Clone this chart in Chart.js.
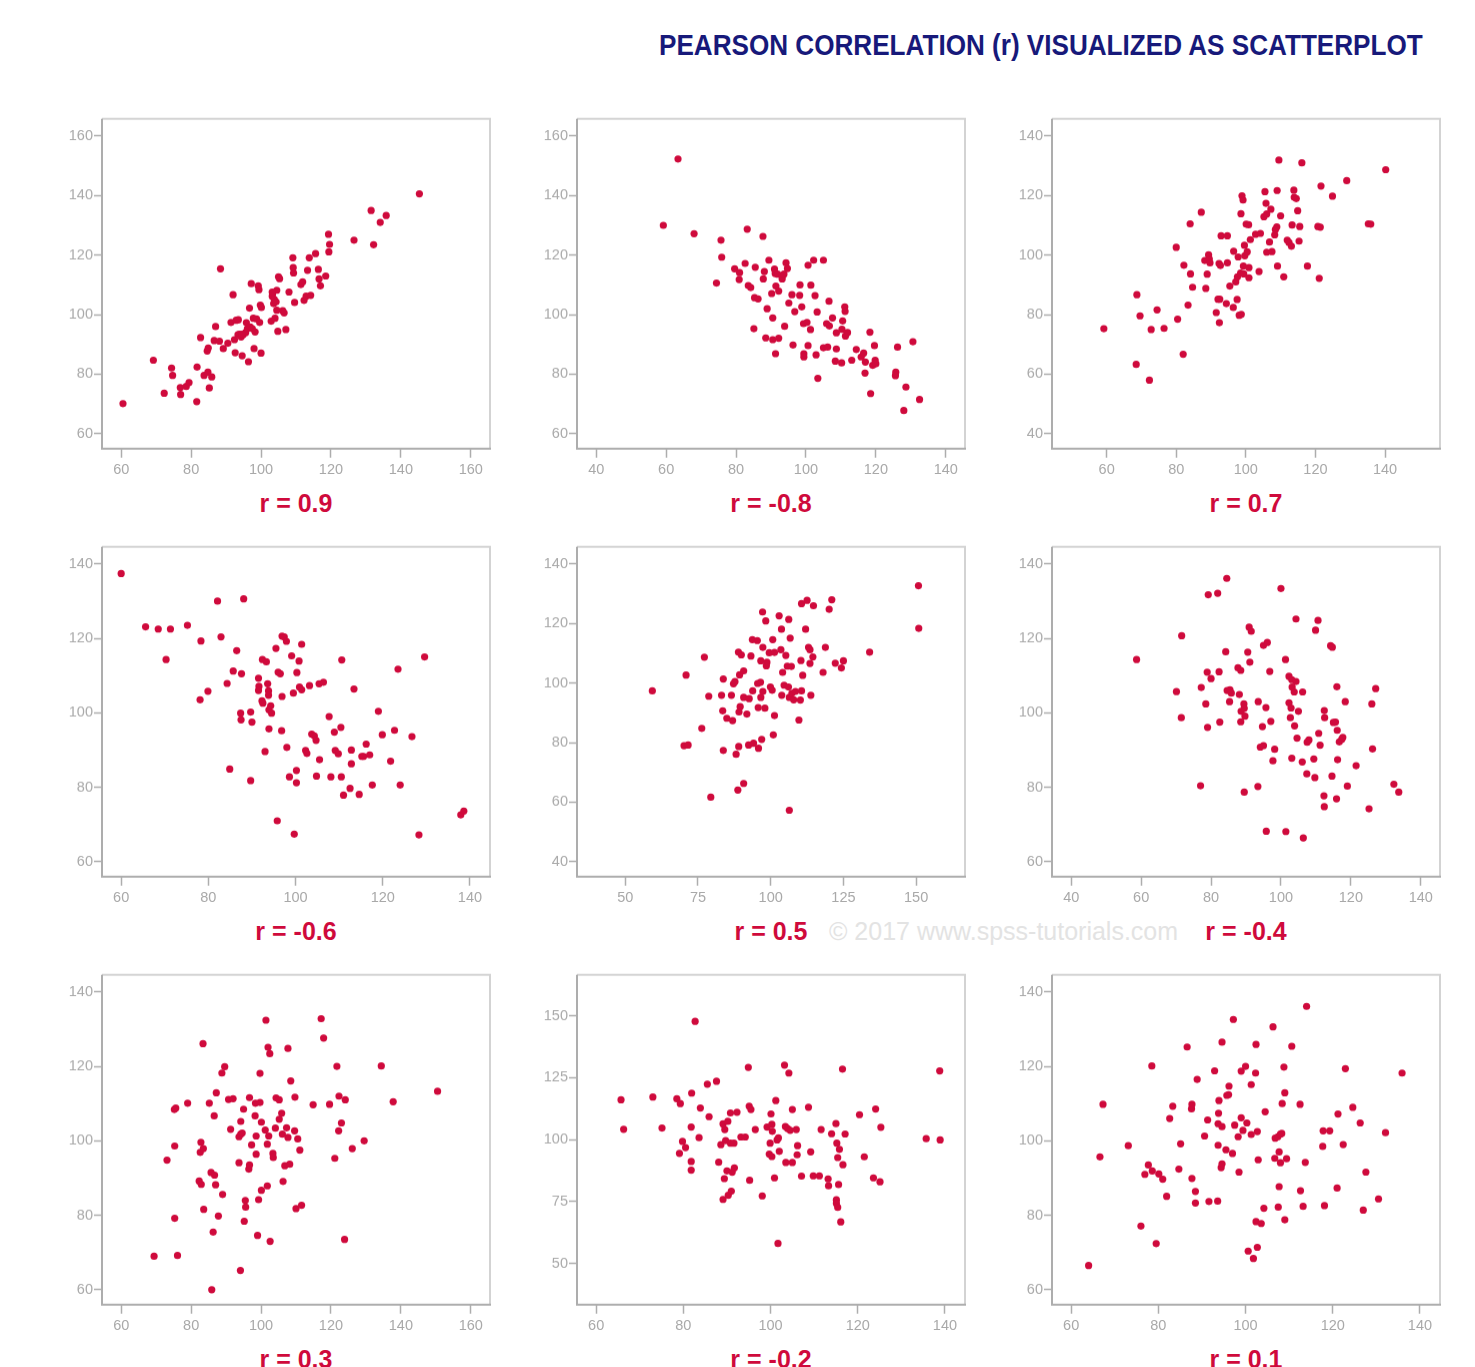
<!DOCTYPE html>
<html>
<head>
<meta charset="utf-8">
<title>Pearson correlation visualized as scatterplot</title>
<script src="https://cdn.jsdelivr.net/npm/chart.js@4.4.0/dist/chart.umd.min.js"></script>
<style>
    body { margin: 0; background: #fff; width: 1475px; height: 1367px; overflow: hidden; position: relative; }
    #title {
        position: absolute; left: 659px; top: 28px;
        font-family: "Liberation Sans", Arial, sans-serif;
        font-weight: bold; font-size: 29px; color: #17197a; white-space: nowrap; line-height: 34px;
        transform: scaleX(0.9); transform-origin: left top;
    }
    #watermark {
        position: absolute; left: 829px; top: 916px;
        font-family: "Liberation Sans", Arial, sans-serif;
        font-size: 25px; color: #e3e3e3; white-space: nowrap; line-height: 30px;
    }
    .panel { position: absolute; }
    .rlabel {
        position: absolute; width: 388px; text-align: center;
        font-family: "Liberation Sans", Arial, sans-serif;
        font-weight: bold; font-size: 25px; color: #cf0a3c; line-height: 30px; white-space: nowrap;
    }
</style>
</head>
<body>
<div id="title">PEARSON CORRELATION (r) VISUALIZED AS SCATTERPLOT</div>
<div id="watermark">© 2017 www.spss-tutorials.com</div>
<div id="panels"></div>
<script>
// Values (x = first variable, y = second)
const r09X = [60.5, 69.2, 72.3, 74.4, 74.7, 76.9, 77.0, 78.6, 79.4, 81.6, 81.7, 82.7, 83.7, 84.8, 84.6, 84.9,
    85.2, 85.9, 87.0, 86.6, 88.1, 88.4, 89.2, 90.5, 91.4, 92.0, 92.4, 92.6, 92.9, 93.4, 93.8, 94.3, 94.6, 94.9,
    95.6, 95.8, 96.1, 96.4, 96.7, 96.9, 97.2, 97.5, 97.8, 98.0, 98.3, 98.7, 99.2, 99.4, 99.6, 99.8, 100.1, 100.0,
    102.9, 103.2, 103.3, 103.6, 103.8, 104.0, 104.3, 104.5, 104.5, 104.8, 105.0, 105.3, 106.2, 106.6, 107.1,
    108.0, 109.1, 109.2, 109.3, 109.6, 111.4, 111.9, 112.3, 112.9, 113.3, 113.8, 114.2, 115.6, 116.4, 116.6,
    117.0, 118.5, 119.3, 119.6, 119.4, 126.6, 131.5, 132.2, 134.1, 135.8, 145.3, 93.5, 94.5, 103.2];
const r09Y = [70.1, 84.7, 73.6, 82.1, 79.6, 75.5, 73.2, 75.9, 77.2, 70.8, 82.4, 92.3, 79.6, 80.7, 87.8, 88.8,
    75.4, 79.1, 96.0, 91.3, 91.1, 115.4, 88.6, 90.4, 97.4, 106.7, 91.6, 87.2, 98.1, 93.3, 93.4, 92.5, 86.2, 93.3,
    94.0, 97.3, 95.3, 84.2, 102.2, 95.9, 110.4, 95.3, 98.8, 88.6, 94.2, 98.6, 109.7, 108.4, 97.4, 103.2, 102.4, 87.1,
    97.8, 106.2, 107.1, 103.7, 105.1, 98.8, 104.3, 101.5, 108.2, 94.4, 112.7, 112.1, 101.3, 100.6, 95.0,
    107.6, 119.1, 115.8, 114.0, 104.1, 110.1, 111.0, 104.8, 106.2, 114.9, 119.1, 106.5, 120.5, 115.2, 112.0,
    109.7, 113.0, 127.0, 123.6, 121.1, 125.0, 135.0, 123.5, 131.0, 133.3, 140.6, 98.3, 93.4, 107.6];

const rm08X = [63.4, 59.2, 68.0, 75.7, 75.9, 74.4, 83.2, 87.7, 79.6, 81.0, 80.9, 82.6, 83.5, 84.2, 85.5, 85.3,
    86.3, 85.1, 88.1, 87.8, 88.9, 88.5, 89.4, 90.2, 90.5, 90.5, 91.0, 91.2, 91.4, 91.9, 92.2, 91.3, 92.2, 93.2,
    93.2, 93.7, 94.3, 94.7, 93.9, 95.1, 96.0, 96.8, 96.3, 98.2, 98.3, 98.8, 99.3, 100.3, 99.4, 99.4, 100.6, 101.3,
    100.6, 101.4, 102.2, 102.6, 103.2, 102.9, 103.4, 105.0, 105.0, 105.9, 106.2, 106.6, 106.7, 107.6, 108.4,
    108.7, 108.7, 110.2, 110.5, 110.3, 111.1, 111.2, 111.3, 111.9, 113.1, 114.4, 115.8, 116.5, 117.0, 116.9,
    118.3, 118.5, 119.1, 119.6, 119.8, 120.0, 126.2, 125.7, 125.6, 128.6, 128.0, 130.6, 132.5];
const rm08Y = [152.3, 130.0, 127.2, 125.0, 119.3, 110.6, 128.7, 126.3, 115.4, 114.1, 111.8, 117.2, 109.8, 109.1,
    115.9, 105.7, 105.3, 95.3, 114.5, 112.0, 102.0, 92.2, 118.3, 107.1, 98.9, 91.6, 115.3, 113.8, 109.6, 113.6,
    107.9, 86.9, 92.1, 113.0, 112.0, 113.6, 117.4, 115.5, 96.1, 103.9, 106.7, 101.0, 89.8, 106.5, 110.0, 102.6,
    97.0, 97.4, 86.9, 85.8, 89.6, 95.0, 116.6, 109.9, 118.3, 106.4, 100.9, 86.5, 78.6, 118.3, 88.9, 97.0, 89.1,
    104.5, 96.2, 98.9, 84.4, 93.9, 88.5, 83.8, 97.9, 95.1, 102.6, 101.1, 92.8, 94.0, 84.7, 88.3, 85.8, 87.1, 84.1,
    80.4, 94.1, 73.5, 83.0, 89.6, 84.7, 83.5, 89.1, 80.7, 79.5, 75.7, 67.8, 90.9, 71.5];

const r07X = [59.2, 68.7, 69.6, 68.5, 72.3, 72.8, 74.5, 76.5, 80.0, 80.4, 82.0, 82.2, 83.4, 84.0, 84.1, 84.7,
    87.2, 88.2, 88.5, 88.9, 89.3, 89.5, 89.7, 91.5, 92.0, 92.4, 92.5, 92.3, 92.7, 92.9, 94.7, 94.4, 94.7, 95.4,
    96.5, 96.4, 97.1, 97.5, 97.6, 97.8, 98.1, 98.6, 98.7, 98.5, 98.9, 99.2, 99.3, 99.4, 99.6, 99.7, 100.1, 100.4,
    100.8, 100.9, 100.9, 101.3, 102.8, 103.8, 104.2, 105.2, 105.5, 105.8, 106.0, 106.0, 106.8, 107.2, 107.5,
    108.3, 108.5, 108.9, 109.0, 109.1, 109.5, 110.0, 110.9, 111.9, 112.4, 113.1, 113.3, 113.8, 113.9, 114.5,
    114.9, 115.3, 115.5, 116.1, 117.7, 120.7, 121.4, 121.1, 121.6, 124.9, 129.0, 135.2, 135.9, 140.2];
const r07Y = [75.3, 86.7, 79.6, 63.3, 58.0, 75.0, 81.6, 75.4, 102.6, 78.5, 66.7, 96.6, 83.2, 110.5, 93.7, 89.2,
    114.4, 98.2, 88.8, 93.6, 100.1, 98.7, 97.4, 80.7, 85.2, 77.3, 85.2, 97.2, 96.5, 106.5, 106.5, 83.7, 97.4, 89.6,
    101.3, 82.4, 91.0, 85.1, 92.7, 99.4, 79.8, 113.9, 80.1, 94.0, 119.9, 118.5, 96.3, 93.7, 103.3, 99.8, 110.4, 101.1,
    110.2, 95.8, 92.4, 105.2, 107.0, 94.5, 107.3, 112.9, 121.3, 117.4, 113.8, 101.0, 104.4, 115.4, 101.2,
    106.8, 108.6, 109.5, 121.7, 96.3, 131.9, 113.2, 92.7, 105.0, 104.2, 103.0, 110.1, 121.8, 119.4, 119.0,
    114.9, 104.7, 109.6, 131.0, 96.3, 109.6, 109.4, 92.2, 123.2, 119.8, 125.0, 110.5, 110.4, 128.7];

const rm06X = [60.0, 65.6, 68.5, 71.3, 70.3, 75.2, 78.3, 78.1, 79.9, 82.1, 82.9, 84.3, 84.9, 85.7, 86.5, 87.4,
    87.5, 87.6, 88.1, 89.7, 89.7, 90.0, 91.5, 91.6, 91.5, 92.3, 92.4, 92.5, 93.0, 93.3, 93.6, 93.8, 93.8, 93.9,
    93.9, 94.3, 94.5, 95.5, 95.8, 96.0, 96.5, 96.8, 96.9, 96.9, 97.4, 97.9, 98.0, 98.6, 99.1, 99.5, 99.7, 100.2,
    100.2, 100.3, 100.8, 100.9, 101.4, 101.4, 102.3, 102.6, 103.2, 103.7, 104.3, 104.7, 104.8, 105.4, 105.5,
    106.4, 107.7, 108.1, 108.9, 109.1, 109.8, 110.4, 110.5, 110.6, 111.0, 112.5, 112.8, 112.8, 113.4, 114.6,
    115.2, 115.6, 116.2, 117.0, 117.6, 119.0, 119.9, 121.8, 122.7, 123.5, 124.0, 126.7, 128.3, 129.6, 137.9, 138.6];
const rm06Y = [137.4, 123.1, 122.5, 122.5, 114.3, 123.5, 119.3, 103.5, 105.8, 130.0, 120.4, 107.9, 84.9, 111.2,
    116.7, 99.9, 98.1, 110.5, 130.6, 100.2, 81.8, 97.5, 109.3, 107.1, 106.0, 103.2, 114.3, 102.6, 89.6, 113.7,
    107.8, 105.9, 104.7, 100.8, 95.7, 101.9, 99.9, 117.3, 71.0, 110.9, 110.5, 95.2, 104.4, 120.6, 120.4, 119.2,
    90.7, 82.8, 115.3, 105.3, 67.4, 84.5, 81.2, 110.8, 113.9, 106.9, 106.2, 118.4, 89.9, 89.1, 107.3, 94.3, 93.8,
    92.6, 83.0, 107.8, 87.4, 108.2, 99.0, 82.8, 94.8, 89.9, 89.0, 96.1, 82.8, 114.2, 77.9, 79.7, 90.0, 86.3, 106.4,
    78.1, 88.3, 88.3, 91.6, 88.7, 80.6, 100.4, 94.1, 87.0, 95.3, 111.7, 80.6, 93.6, 67.2, 115.0, 72.6, 73.6];

const r05X = [59.3, 70.2, 71.6, 70.9, 76.3, 77.2, 78.7, 79.4, 83.1, 83.5, 83.7, 83.7, 84.9, 86.5, 86.9, 87.2,
    87.7, 88.1, 88.7, 88.9, 89.0, 89.1, 89.3, 89.5, 89.9, 90.7, 90.7, 90.7, 91.8, 92.4, 92.6, 93.2, 93.7, 93.8,
    94.1, 95.4, 95.5, 95.7, 95.8, 96.5, 96.6, 96.6, 96.9, 97.2, 97.3, 97.3, 98.0, 98.3, 98.5, 98.7, 99.5, 99.9,
    100.5, 100.7, 100.9, 101.3, 101.3, 102.9, 103.5, 103.7, 103.8, 104.1, 104.6, 105.2, 105.7, 106.1, 106.2,
    106.4, 106.4, 106.7, 107.1, 107.3, 107.9, 108.5, 109.7, 110.2, 110.4, 110.6, 110.6, 111.0, 112.0, 112.5,
    113.0, 113.5, 113.5, 113.8, 114.7, 114.5, 118.0, 118.8, 120.1, 121.0, 122.2, 124.3, 125.0, 134.0, 150.8, 150.9];
const r05Y = [97.4, 79.0, 79.2, 102.7, 84.8, 108.7, 95.6, 61.7, 95.9, 90.7, 101.4, 77.4, 88.2, 95.9, 87.4, 99.8,
    100.5, 76.1, 64.1, 110.4, 78.7, 90.3, 102.8, 92.1, 109.5, 104.1, 95.2, 66.3, 89.6, 79.2, 94.8, 109.1, 114.6,
    97.4, 79.8, 114.3, 99.9, 91.8, 78.1, 100.3, 107.5, 95.2, 81.1, 123.9, 112.0, 97.2, 91.6, 120.9, 105.8, 107.0,
    110.2, 98.7, 97.6, 114.6, 82.6, 110.3, 89.1, 122.6, 111.2, 118.1, 95.9, 103.6, 99.3, 109.3, 105.7, 98.7, 121.4,
    95.2, 57.3, 115.1, 105.6, 96.6, 94.4, 97.2, 87.6, 94.3, 107.6, 126.7, 97.4, 102.6, 118.1, 127.8, 112.0, 111.2,
    106.6, 95.9, 126.0, 108.8, 103.6, 112.0, 124.8, 128.0, 106.7, 105.1, 107.5, 110.4, 132.7, 118.4];

const rm04X = [58.7, 70.1, 71.5, 71.6, 77.0, 77.2, 78.5, 78.9, 79.0, 79.2, 80.0, 81.9, 82.3, 82.5, 84.2, 84.5,
    84.6, 85.3, 85.4, 85.8, 87.7, 88.1, 88.5, 88.5, 88.6, 89.4, 89.5, 89.7, 89.5, 90.5, 90.9, 91.1, 91.5, 93.4,
    93.5, 94.1, 94.7, 95.0, 95.0, 95.7, 95.8, 96.1, 96.8, 97.1, 97.7, 98.2, 100.0, 101.3, 101.4, 102.3, 102.3,
    102.7, 102.9, 103.1, 103.2, 103.1, 103.8, 103.9, 104.3, 104.3, 104.6, 105.0, 106.1, 106.2, 106.4, 107.4,
    107.5, 108.0, 109.4, 109.7, 109.9, 110.6, 110.8, 111.2, 112.3, 112.4, 112.4, 112.5, 114.2, 114.6, 114.7,
    115.0, 115.6, 115.9, 116.0, 116.1, 116.2, 116.7, 117.4, 117.7, 118.4, 119.0, 121.5, 125.2, 126.0, 126.2,
    127.1, 132.3, 133.7];
const rm04Y = [114.3, 105.7, 98.7, 120.7, 80.4, 106.8, 102.4, 110.9, 96.1, 131.7, 109.2, 132.1, 111.0, 97.5, 116.4,
    136.1, 106.0, 103.0, 106.2, 105.3, 112.1, 104.9, 111.4, 97.6, 100.4, 102.4, 101.2, 99.1, 78.7, 116.3, 123.0,
    113.6, 121.9, 80.2, 103.0, 90.8, 96.3, 91.2, 118.1, 101.4, 68.2, 118.9, 111.1, 97.7, 87.1, 90.2, 133.4, 114.3,
    68.1, 109.8, 102.7, 98.7, 101.3, 108.9, 106.9, 87.8, 105.6, 96.5, 108.4, 125.2, 93.2, 100.4, 86.8, 105.6, 66.4,
    83.6, 92.1, 92.7, 87.6, 82.6, 122.2, 124.8, 94.5, 91.3, 77.7, 74.8, 100.6, 98.7, 118.0, 83.0, 117.6, 97.4, 97.5,
    76.9, 107.0, 95.3, 87.4, 92.2, 92.9, 93.4, 103.0, 80.3, 85.8, 74.2, 102.4, 90.3, 106.5, 80.8, 78.7];

const r03X = [69.4, 73.1, 75.3, 75.3, 75.2, 75.6, 76.1, 79.0, 82.3, 82.6, 82.8, 82.9, 83.5, 83.4, 83.6, 85.2,
    85.7, 85.9, 86.3, 86.6, 86.7, 87.0, 87.2, 87.8, 88.8, 89.0, 89.6, 90.7, 91.3, 92.0, 93.7, 93.7, 94.2, 94.2,
    94.1, 94.6, 95.0, 95.2, 95.5, 95.6, 96.5, 96.7, 96.7, 97.3, 98.3, 98.4, 98.6, 98.6, 99.0, 99.3, 99.7, 99.7,
    100.1, 100.1, 101.2, 101.4, 101.8, 101.8, 102.0, 102.2, 102.5, 102.6, 103.4, 103.5, 104.1, 104.3, 105.2,
    105.2, 105.9, 106.1, 106.3, 106.8, 107.3, 107.7, 107.7, 108.2, 108.5, 109.6, 109.7, 110.0, 110.5, 111.1,
    111.6, 114.9, 117.2, 117.9, 119.6, 121.1, 121.7, 122.2, 122.3, 123.0, 123.9, 124.1, 126.1, 129.5, 134.4,
    137.8, 150.5];
const r03Y = [69.0, 94.8, 79.2, 98.6, 108.4, 108.8, 69.2, 110.1, 89.2, 96.9, 99.6, 88.3, 97.9, 126.1, 81.6, 110.1,
    91.5, 60.0, 75.5, 106.7, 90.8, 88.2, 112.9, 79.8, 118.2, 85.6, 119.9, 111.1, 103.1, 111.3, 94.1, 101.1, 105.2,
    101.8, 65.2, 102.1, 108.5, 78.4, 84.0, 82.2, 92.4, 93.5, 111.6, 98.9, 106.7, 110.1, 101.3, 96.4, 74.6, 84.2,
    118.1, 110.3, 105.0, 86.7, 102.9, 132.4, 99.1, 87.9, 125.1, 101.3, 123.4, 73.0, 96.6, 95.5, 103.4, 111.5,
    111.0, 105.8, 107.4, 101.8, 89.1, 93.3, 103.5, 124.8, 100.9, 93.7, 116.1, 102.7, 111.7, 81.8, 100.5, 97.5,
    82.7, 109.7, 132.8, 127.6, 109.8, 95.3, 120.0, 102.7, 112.0, 104.8, 73.5, 111.0, 97.9, 100.0, 120.1, 110.5,
    113.3];

const rm02X = [65.7, 66.3, 73.0, 75.1, 78.5, 79.3, 79.1, 79.8, 80.5, 81.9, 81.8, 81.8, 81.8, 82.7, 83.6, 83.9,
    85.5, 85.9, 87.6, 88.1, 88.6, 89.1, 89.5, 89.1, 89.4, 89.7, 90.0, 90.2, 90.3, 90.8, 90.8, 91.0, 91.2, 91.6,
    91.7, 92.3, 93.2, 94.2, 94.9, 95.1, 95.5, 95.2, 96.5, 98.1, 99.2, 99.7, 99.9, 100.1, 100.3, 100.4, 100.3,
    100.9, 101.2, 101.5, 101.8, 102.0, 101.7, 103.2, 103.4, 103.5, 103.9, 104.2, 104.5, 105.0, 105.0, 105.9,
    106.1, 106.2, 107.1, 108.7, 109.2, 109.8, 111.2, 111.6, 113.2, 113.3, 114.0, 115.0, 115.2, 115.4, 115.8,
    115.6, 115.1, 115.1, 115.4, 116.1, 116.5, 116.6, 117.1, 120.4, 121.5, 123.6, 124.1, 125.1, 125.3, 135.7,
    138.8, 138.9];
const rm02Y = [116.1, 104.2, 117.2, 104.7, 116.5, 114.6, 94.5, 99.3, 96.8, 118.8, 105.1, 91.2, 87.7, 147.8, 100.8,
    112.8, 122.4, 109.3, 123.6, 90.9, 98.0, 106.4, 104.1, 75.9, 84.3, 99.6, 87.4, 107.4, 77.6, 110.8, 98.6, 79.2,
    86.9, 98.6, 88.6, 111.1, 101.1, 101.1, 129.2, 113.5, 112.2, 83.6, 104.1, 77.3, 105.1, 94.2, 98.6, 110.4, 106.2,
    103.4, 93.2, 84.6, 115.8, 99.9, 100.7, 95.3, 58.1, 130.1, 105.3, 90.8, 104.5, 126.9, 103.8, 90.8, 112.2, 104.1,
    93.9, 97.6, 85.3, 113.1, 95.1, 85.4, 85.4, 104.1, 84.2, 81.4, 102.4, 106.5, 98.6, 92.8, 96.1, 81.9, 75.7, 74.3,
    72.7, 66.8, 128.5, 89.9, 102.3, 110.1, 93.1, 84.6, 112.4, 83.0, 105.0, 100.4, 127.8, 99.9];

const r01X = [64.0, 66.6, 67.3, 73.1, 76.0, 76.9, 77.7, 78.5, 78.6, 79.5, 80.1, 81.0, 81.9, 82.6, 83.3, 84.7,
    85.1, 86.6, 87.6, 87.7, 87.7, 88.5, 88.5, 88.9, 90.6, 91.3, 91.6, 92.9, 93.6, 93.7, 93.8, 93.7, 93.9, 94.4,
    94.6, 94.6, 94.6, 95.5, 95.7, 96.1, 96.2, 97.0, 97.2, 97.5, 98.3, 98.5, 99.0, 99.0, 99.4, 100.0, 100.3, 100.6,
    101.3, 101.3, 101.8, 102.3, 102.4, 102.4, 102.7, 102.7, 102.9, 103.6, 104.2, 104.5, 106.3, 106.7, 106.8,
    107.4, 107.5, 107.7, 107.7, 108.0, 108.0, 108.3, 108.4, 108.8, 109.0, 109.0, 109.4, 110.6, 112.5, 112.6,
    113.2, 113.7, 114.0, 117.7, 117.8, 118.1, 119.3, 121.0, 121.2, 122.4, 122.9, 124.6, 126.3, 127.0, 127.6,
    130.5, 132.1, 135.9];
const r01Y = [66.5, 95.7, 109.8, 98.7, 77.1, 91.0, 93.5, 120.1, 91.9, 72.4, 91.1, 89.7, 85.1, 106.0, 109.3, 92.4,
    99.2, 125.2, 108.6, 109.8, 89.9, 86.4, 83.3, 116.5, 101.3, 105.6, 83.7, 118.8, 83.8, 98.8, 107.4, 104.6, 110.8,
    92.8, 126.5, 103.8, 93.8, 97.6, 112.2, 112.4, 114.7, 96.6, 132.6, 104.2, 101.1, 91.6, 106.2, 118.7, 102.8,
    120.0, 104.8, 70.4, 115.1, 101.7, 68.4, 118.2, 125.9, 78.3, 102.5, 71.4, 94.9, 77.8, 81.9, 107.8, 130.6, 95.3,
    100.7, 101.1, 82.2, 97.0, 87.7, 101.8, 94.1, 102.0, 110.0, 119.8, 112.9, 78.8, 95.2, 125.4, 109.8, 86.6, 82.4,
    94.2, 136.1, 98.5, 102.7, 82.6, 102.7, 87.3, 107.2, 99.0, 119.4, 109.0, 104.8, 81.4, 91.6, 84.4, 102.2, 118.2];

// Tick labels used on the axes
const ticks40to140 = [40, 60, 80, 100, 120, 140];
const ticks60to140 = [60, 80, 100, 120, 140];
const ticks60to160 = [60, 80, 100, 120, 140, 160];
const ticks50to150by25 = [50, 75, 100, 125, 150];

const RED = '#cf0a3c';
const AXIS_LINE = '#adadad';
const FRAME_LIGHT = '#d3d3d3';
const TICK_TEXT = '#a9a9a9';

const panels = [
    { label: 'r = 0.9', xs: r09X, ys: r09Y, xMin: 54.5, xMax: 165.5, yMin: 55, yMax: 165.8, xTicks: ticks60to160, yTicks: ticks60to160 },
    { label: 'r = -0.8', xs: rm08X, ys: rm08Y, xMin: 34.5, xMax: 145.5, yMin: 55, yMax: 165.8, xTicks: ticks40to140, yTicks: ticks60to160 },
    { label: 'r = 0.7', xs: r07X, ys: r07Y, xMin: 44.3, xMax: 155.8, yMin: 35, yMax: 145.8, xTicks: ticks60to140, yTicks: ticks40to140 },
    { label: 'r = -0.6', xs: rm06X, ys: rm06Y, xMin: 55.6, xMax: 144.6, yMin: 56, yMax: 144.6, xTicks: ticks60to140, yTicks: ticks60to140 },
    { label: 'r = 0.5', xs: r05X, ys: r05Y, xMin: 33.4, xMax: 166.8, yMin: 35, yMax: 145.8, xTicks: ticks50to150by25, yTicks: ticks40to140 },
    { label: 'r = -0.4', xs: rm04X, ys: rm04Y, xMin: 34.5, xMax: 145.5, yMin: 56, yMax: 144.6, xTicks: ticks40to140, yTicks: ticks60to140 },
    { label: 'r = 0.3', xs: r03X, ys: r03Y, xMin: 54.5, xMax: 165.5, yMin: 56, yMax: 144.6, xTicks: ticks60to160, yTicks: ticks60to140 },
    { label: 'r = -0.2', xs: rm02X, ys: rm02Y, xMin: 55.6, xMax: 144.6, yMin: 33.4, yMax: 166.6, xTicks: ticks60to140, yTicks: [50, 75, 100, 125, 150] },
    { label: 'r = 0.1', xs: r01X, ys: r01Y, xMin: 55.6, xMax: 144.6, yMin: 56, yMax: 144.6, xTicks: ticks60to140, yTicks: ticks60to140 }
];

// box round the plot area: light top/right, darker left/bottom axis lines
const framePlugin = {
    id: 'frame',
    afterDraw(chart) {
        const { ctx, chartArea } = chart;
        const { left, right, top, bottom } = chartArea;
        ctx.save();
        ctx.lineWidth = 2;
        ctx.strokeStyle = FRAME_LIGHT;
        ctx.beginPath();
        ctx.moveTo(left, top);
        ctx.lineTo(right, top);
        ctx.lineTo(right, bottom);
        ctx.stroke();
        ctx.strokeStyle = AXIS_LINE;
        ctx.beginPath();
        ctx.moveTo(left, top);
        ctx.lineTo(left, bottom);
        ctx.lineTo(right + 1, bottom);
        ctx.stroke();
        ctx.restore();
    }
};

// wanted plot-area size and place for each panel
const AREA_W = 388;
const AREA_H = 329;
const Y_AXIS_W = 45;
const X_AXIS_H = 32;
const container = document.getElementById('panels');

function axisOptions(min, max, tickValues, isX) {
    return {
        type: 'linear',
        min: min,
        max: max,
        afterBuildTicks: (scale) => {
            scale.ticks = tickValues.map(v => ({ value: v }));
        },
        afterFit: (scale) => {
            if (isX) scale.height = X_AXIS_H;
            else scale.width = Y_AXIS_W;
        },
        grid: {
            display: true,
            drawOnChartArea: false,
            drawTicks: true,
            tickLength: isX ? 9 : 8,
            tickWidth: 1.5,
            color: AXIS_LINE
        },
        border: { display: false },
        ticks: {
            color: TICK_TEXT,
            padding: isX ? 4 : 1,
            font: { family: '"Liberation Sans", Arial, sans-serif', size: 14.5 }
        }
    };
}

panels.forEach((p, i) => {
    const col = i % 3;
    const row = Math.floor(i / 3);
    const left = 102 + 475 * col;
    const top = 119 + 428 * row;

    const wrap = document.createElement('div');
    wrap.className = 'panel';
    const canvas = document.createElement('canvas');
    canvas.width = AREA_W + Y_AXIS_W + 20;
    canvas.height = AREA_H + X_AXIS_H + 20;
    wrap.appendChild(canvas);
    container.appendChild(wrap);

    const label = document.createElement('div');
    label.className = 'rlabel';
    label.textContent = p.label;
    label.style.left = left + 'px';
    label.style.top = (top + 369) + 'px';
    container.appendChild(label);

    const chart = new Chart(canvas, {
        type: 'scatter',
        data: {
            datasets: [{
                data: p.xs.map((x, k) => ({ x: x, y: p.ys[k] })),
                pointRadius: 3.6,
                pointBackgroundColor: RED,
                pointBorderColor: RED,
                pointBorderWidth: 0
            }]
        },
        options: {
            responsive: false,
            maintainAspectRatio: false,
            animation: false,
            layout: { padding: { top: 2, right: 2, left: 0, bottom: 0 } },
            plugins: {
                legend: { display: false },
                tooltip: { enabled: false }
            },
            scales: {
                x: axisOptions(p.xMin, p.xMax, p.xTicks, true),
                y: axisOptions(p.yMin, p.yMax, p.yTicks, false)
            }
        },
        plugins: [framePlugin]
    });

    // grow/shrink the canvas so the plot area gets the wanted size, then place it
    const a = chart.chartArea;
    const w = canvas.width + (AREA_W - (a.right - a.left));
    const h = canvas.height + (AREA_H - (a.bottom - a.top));
    chart.resize(w, h);
    const b = chart.chartArea;
    wrap.style.left = (left - b.left) + 'px';
    wrap.style.top = (top - b.top) + 'px';
});
</script>
</body>
</html>
